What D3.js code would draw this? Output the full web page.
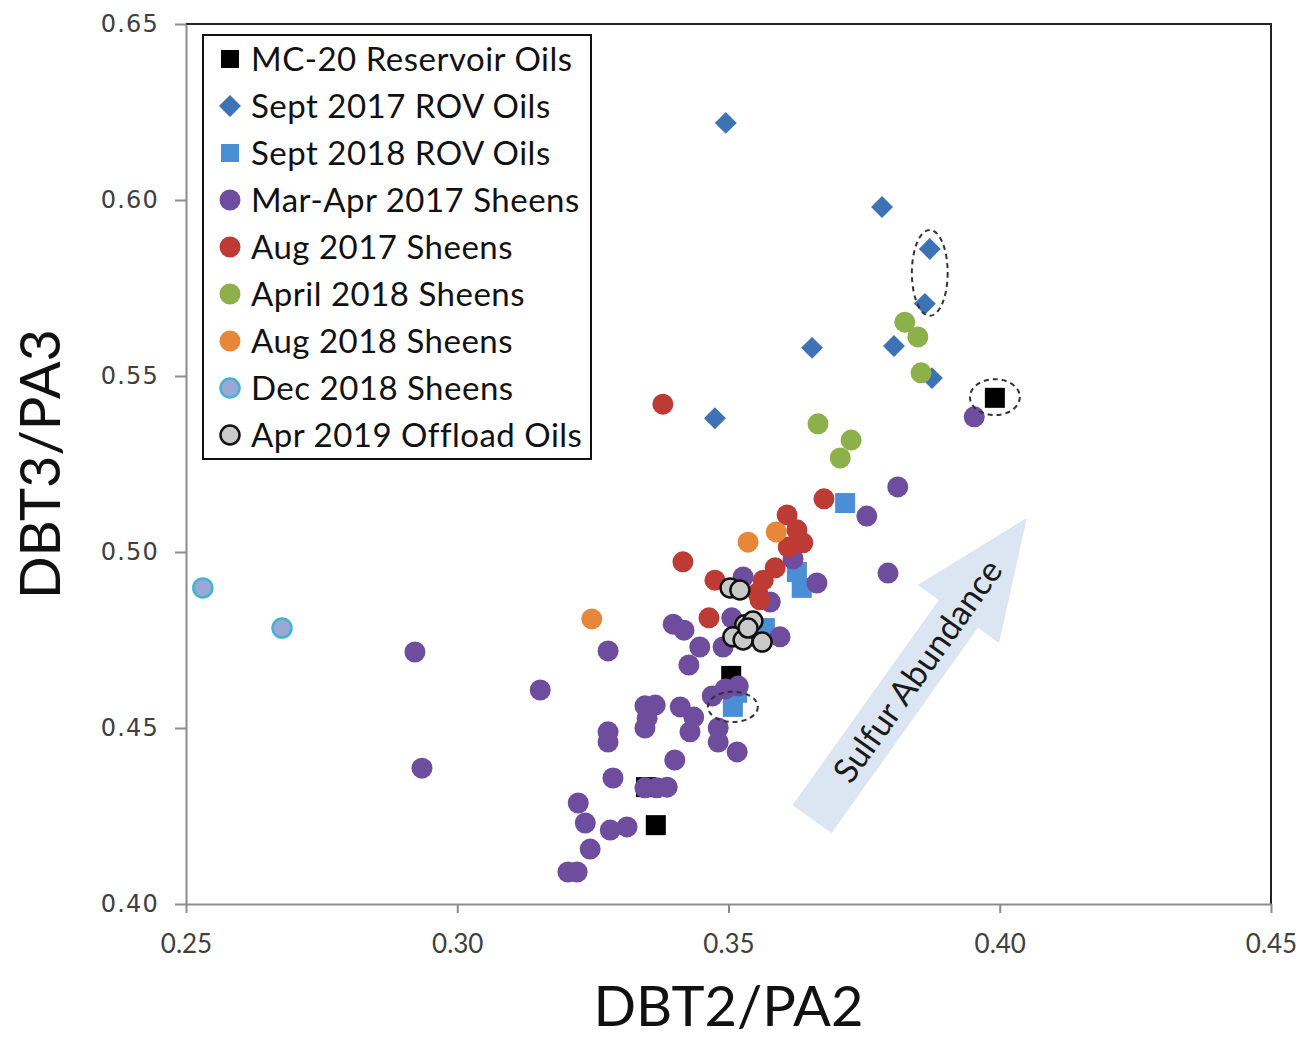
<!DOCTYPE html>
<html>
<head>
    <title>DBT2/PA2 vs DBT3/PA3</title>
    <script src="https://d3js.org/d3.v7.min.js"></script>
    <style>
        body { margin: 0; background: #fff; }
        svg { display: block; }
        .xaxis text { font-family: Lato, sans-serif; font-size: 26px; fill: #404040; }
        .yaxis text { font-family: "DejaVu Sans", sans-serif; font-size: 24px; fill: #404040; letter-spacing: 1.2px; }
        .xaxis path, .xaxis line, .yaxis path, .yaxis line { stroke: #8c8c8c; stroke-width: 2px; }
        .title { font-family: Lato, sans-serif; font-size: 56px; fill: #111; }
        .legend text { font-family: Lato, sans-serif; font-size: 33px; fill: #111; letter-spacing: 0.5px; }
    </style>
</head>
<body>
    <svg></svg>
    <script>
        // ticks
        const xTicks = [0.25, 0.30, 0.35, 0.40, 0.45];
        const yTicks = [0.40, 0.45, 0.50, 0.55, 0.60, 0.65];

        // series: [DBT2/PA2, DBT3/PA3]
        const mc20 = [[0.3991, 0.5438], [0.3505, 0.4648], [0.3366, 0.4224], [0.3348, 0.4332]];
        const rov2017 = [[0.3495, 0.6219], [0.3783, 0.5980], [0.3871, 0.5861], [0.3862, 0.5705],
            [0.3654, 0.5580], [0.3805, 0.5585], [0.3875, 0.5494], [0.3475, 0.5380]];
        const rov2018 = [[0.3715, 0.5139], [0.3626, 0.4943], [0.3635, 0.4898], [0.3516, 0.4600],
            [0.3508, 0.4560], [0.3567, 0.4784]];
        const sheens2017MarApr = [
            [0.2922, 0.4716], [0.2935, 0.4386], [0.3153, 0.4608], [0.3278, 0.4719], [0.3953, 0.5384],
            [0.3812, 0.5185], [0.3755, 0.5102], [0.3794, 0.4940], [0.3663, 0.4912], [0.3619, 0.4980],
            [0.3577, 0.4858], [0.3595, 0.4759], [0.3527, 0.4929], [0.3506, 0.4813], [0.3398, 0.4795],
            [0.3418, 0.4778], [0.3447, 0.4730], [0.3490, 0.4730], [0.3427, 0.4679], [0.3470, 0.4591],
            [0.3494, 0.4611], [0.3518, 0.4619], [0.3346, 0.4563], [0.3365, 0.4565], [0.3350, 0.4528],
            [0.3346, 0.4500], [0.3411, 0.4560], [0.3436, 0.4531], [0.3429, 0.4489], [0.3481, 0.4500],
            [0.3481, 0.4460], [0.3516, 0.4432], [0.3278, 0.4489], [0.3278, 0.4460], [0.3401, 0.4409],
            [0.3287, 0.4358], [0.3346, 0.4330], [0.3368, 0.4330], [0.3387, 0.4332], [0.3223, 0.4287],
            [0.3236, 0.4230], [0.3282, 0.4210], [0.3313, 0.4219], [0.3245, 0.4156], [0.3204, 0.4091],
            [0.3221, 0.4091]];
        const sheens2017Aug = [[0.3379, 0.5420], [0.3676, 0.5151], [0.3608, 0.5105], [0.3626, 0.5063],
            [0.3637, 0.5026], [0.3610, 0.5014], [0.3586, 0.4955], [0.3564, 0.4920], [0.3554, 0.4884],
            [0.3558, 0.4864], [0.3416, 0.4972], [0.3475, 0.4920], [0.3464, 0.4813]];
        const sheens2018Apr = [[0.3825, 0.5653], [0.3849, 0.5611], [0.3855, 0.5509], [0.3665, 0.5364],
            [0.3726, 0.5318], [0.3706, 0.5267]];
        const sheens2018Aug = [[0.3248, 0.4810], [0.3536, 0.5028], [0.3588, 0.5057]];
        const sheens2018Dec = [[0.2531, 0.4898], [0.2677, 0.4784]];
        const offload2019 = [[0.3503, 0.4898], [0.3521, 0.4892], [0.3530, 0.4793], [0.3545, 0.4804],
            [0.3508, 0.4759], [0.3527, 0.4750], [0.3562, 0.4744], [0.3536, 0.4784]];

        const seriesNames = ["MC-20 Reservoir Oils", "Sept 2017 ROV Oils", "Sept 2018 ROV Oils",
            "Mar-Apr 2017 Sheens", "Aug 2017 Sheens", "April 2018 Sheens", "Aug 2018 Sheens",
            "Dec 2018 Sheens", "Apr 2019 Offload Oils"];
        const seriesData = [mc20, rov2017, rov2018, sheens2017MarApr, sheens2017Aug,
            sheens2018Apr, sheens2018Aug, sheens2018Dec, offload2019];

        // dashed ellipses: [cx, cy, rx, ry] in data units
        const rings = [[0.3871, 0.5793, 0.0033, 0.0122], [0.3991, 0.5440, 0.0046, 0.0051],
            [0.3508, 0.4560, 0.0046, 0.0043]];
        // arrow tail and tip in data units
        const arrowTail = [0.3654, 0.4241];
        const arrowTip = [0.4050, 0.5097];

        // marker style per series
        const styles = [
            { shape: "square", size: 20, fill: "#000", stroke: "none" },
            { shape: "diamond", size: 15.5, fill: "#3d72b5", stroke: "none" },
            { shape: "square", size: 20, fill: "#4a8fd6", stroke: "none" },
            { shape: "circle", r: 10.5, fill: "#6e4c9e", stroke: "none" },
            { shape: "circle", r: 10.5, fill: "#be3a34", stroke: "none" },
            { shape: "circle", r: 10.5, fill: "#8cb04a", stroke: "none" },
            { shape: "circle", r: 10.5, fill: "#e8873a", stroke: "none" },
            { shape: "circle", r: 9.5, fill: "#9ba7d6", stroke: "#45b3cf", sw: 2.5 },
            { shape: "circle", r: 9.5, fill: "#c9c9c9", stroke: "#111", sw: 2.5 }
        ];

        const width = 1302, height = 1039;
        const plot = { left: 186, right: 1271, top: 24, bottom: 904 };

        const svg = d3.select("svg").attr("width", width).attr("height", height);

        const x = d3.scaleLinear().domain([0.25, 0.45]).range([plot.left, plot.right]);
        const y = d3.scaleLinear().domain([0.40, 0.65]).range([plot.bottom, plot.top]);

        // frame (top and right)
        svg.append("path")
            .attr("d", `M${plot.left},${plot.top}H${plot.right}V${plot.bottom}`)
            .attr("fill", "none").attr("stroke", "#222").attr("stroke-width", 2);

        svg.append("g").attr("class", "xaxis")
            .attr("transform", `translate(0,${plot.bottom})`)
            .call(d3.axisBottom(x).tickValues(xTicks).tickFormat(d3.format(".2f"))
                .tickSize(9).tickSizeOuter(0).tickPadding(22));

        svg.append("g").attr("class", "yaxis")
            .attr("transform", `translate(${plot.left},0)`)
            .call(d3.axisLeft(y).tickValues(yTicks).tickFormat(d3.format(".2f"))
                .tickSize(11).tickSizeOuter(0).tickPadding(16));

        // axis titles
        svg.append("text").attr("class", "title")
            .attr("x", (plot.left + plot.right) / 2).attr("y", 1026)
            .attr("text-anchor", "middle").text("DBT2/PA2");
        svg.append("text").attr("class", "title")
            .attr("transform", `translate(60,${(plot.top + plot.bottom) / 2}) rotate(-90)`)
            .attr("text-anchor", "middle").text("DBT3/PA3");

        // sulfur arrow
        const p0 = [x(arrowTail[0]), y(arrowTail[1])];
        const p1 = [x(arrowTip[0]), y(arrowTip[1])];
        const len = Math.hypot(p1[0] - p0[0], p1[1] - p0[1]);
        const ang = Math.atan2(p1[1] - p0[1], p1[0] - p0[0]) * 180 / Math.PI;
        const headLen = 118, shaftW = 24, headW = 50;
        const arrow = svg.append("g").attr("transform", `translate(${p0[0]},${p0[1]}) rotate(${ang})`);
        arrow.append("path")
            .attr("d", `M0,${-shaftW}L${len - headLen},${-shaftW}L${len - headLen},${-headW}L${len},0` +
                `L${len - headLen},${headW}L${len - headLen},${shaftW}L0,${shaftW}Z`)
            .attr("fill", "#dce6f2");
        arrow.append("text")
            .attr("x", 182).attr("dy", "0.35em")
            .attr("text-anchor", "middle")
            .style("font-family", "Lato, sans-serif").style("font-size", "34px").style("fill", "#1a1a1a")
            .text("Sulfur Abundance");

        // marker drawing helper
        function drawMarker(sel, st) {
            if (st.shape === "circle") {
                sel.append("circle").attr("r", st.r)
                    .attr("fill", st.fill).attr("stroke", st.stroke).attr("stroke-width", st.sw || 0);
            } else {
                const s = st.size;
                sel.append("rect").attr("x", -s / 2).attr("y", -s / 2).attr("width", s).attr("height", s)
                    .attr("fill", st.fill)
                    .attr("transform", st.shape === "diamond" ? "rotate(45)" : null);
            }
        }

        // points
        seriesData.forEach((pts, i) => {
            svg.append("g").selectAll("g")
                .data(pts)
                .join("g")
                .attr("transform", d => `translate(${x(d[0])},${y(d[1])})`)
                .each(function() { drawMarker(d3.select(this), styles[i]); });
        });

        // dashed rings
        svg.append("g").selectAll("ellipse")
            .data(rings)
            .join("ellipse")
            .attr("cx", d => x(d[0])).attr("cy", d => y(d[1]))
            .attr("rx", d => x(d[0] + d[2]) - x(d[0]))
            .attr("ry", d => y(d[1]) - y(d[1] + d[3]))
            .attr("fill", "none").attr("stroke", "#333").attr("stroke-width", 2)
            .attr("stroke-dasharray", "5,4");

        // legend
        const legend = svg.append("g").attr("class", "legend");
        legend.append("rect")
            .attr("x", 203).attr("y", 35).attr("width", 388).attr("height", 424)
            .attr("fill", "#fff").attr("stroke", "#111").attr("stroke-width", 2);
        const rows = legend.selectAll("g.row")
            .data(seriesNames)
            .join("g")
            .attr("class", "row")
            .attr("transform", (d, i) => `translate(230,${59 + i * 47})`);
        rows.each(function(d, i) {
            const st = Object.assign({}, styles[i]);
            if (st.shape === "circle") st.r = st.stroke === "none" ? 10.5 : 9.5;
            if (st.shape === "square") st.size = 18;
            drawMarker(d3.select(this), st);
        });
        rows.append("text").attr("x", 21).attr("dy", "0.35em").text(d => d);
    </script>
</body>
</html>
